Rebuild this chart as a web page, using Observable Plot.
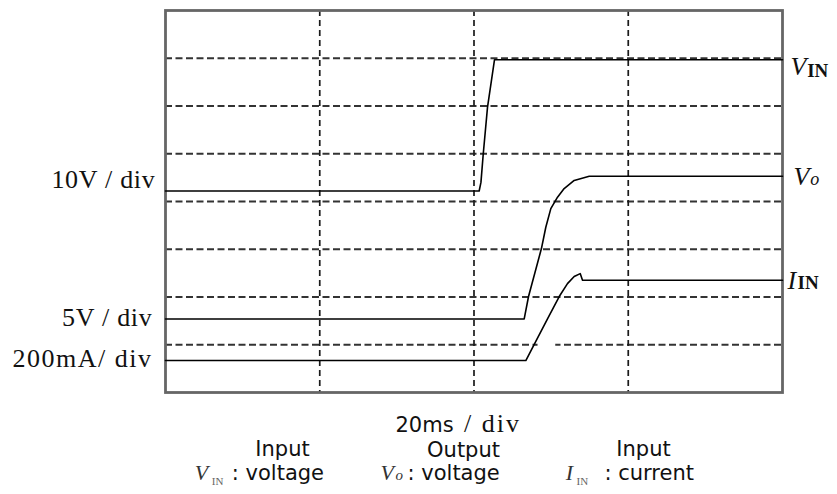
<!DOCTYPE html>
<html>
<head>
<meta charset="utf-8">
<script src="https://cdn.jsdelivr.net/npm/d3@7"></script>
<script src="https://cdn.jsdelivr.net/npm/@observablehq/plot@0.6"></script>
<style>
  html, body { margin: 0; padding: 0; background: #fff; }
  svg { display: block; }
</style>
</head>
<body>
<div id="chart"></div>
<script>
// ---- Data (time in ms at 20 ms/div, amplitude in divisions) ----
const gridTime = [20, 40, 60];
const gridDiv = [1, 2, 3, 4, 5, 6, 7];

const vinTime = [0, 40.67, 40.9, 41.19, 41.75, 42.66, 80];
const vinDiv  = [4.22, 4.22, 4.4, 4.98, 5.97, 6.97, 6.97];

const voTime = [0, 46.51, 47.07, 48.75, 49.31, 49.96, 50.83, 51.69, 52.99, 54.94, 80];
const voDiv  = [1.54, 1.54, 2.01, 3.02, 3.46, 3.85, 4.09, 4.27, 4.44, 4.53, 4.53];

const iinTime = [0, 46.72, 47.81, 49.53, 51.05, 52.12, 52.99, 53.77, 54.07, 80];
const iinDiv  = [0.67, 0.67, 1.01, 1.54, 2.01, 2.28, 2.43, 2.49, 2.35, 2.35];

const scaleLabels = ["10V / div", "5V / div", "200mA/ div"];
const timeLabel = ["20ms", "/ div"];
const legendTitles = ["Input", "Output", "Input"];
const legendDescs = [": voltage", ": voltage", ": current"];

const toPts = (t, v) => t.map((x, i) => ({t: x, v: v[i]}));
const vin = toPts(vinTime, vinDiv);
const vo = toPts(voTime, voDiv);
const iin = toPts(iinTime, iinDiv);

const serif = "'Liberation Serif', 'DejaVu Serif', serif";
const sans = "'DejaVu Sans', sans-serif";

const txt = (data, opts) => Plot.text(data, {lineAnchor: "bottom", fill: "#111", text: d => d, textAnchor: "start", ...opts});

const chart = Plot.plot({
  width: 837,
  height: 494,
  marginLeft: 165,
  marginRight: 55,
  marginTop: 10,
  marginBottom: 102,
  x: {domain: [0, 80], axis: null},
  y: {domain: [0, 8], axis: null},
  marks: [
    Plot.ruleY(gridDiv, {y: d => d, stroke: "#333", strokeWidth: 2, strokeDasharray: "7,3.5"}),
    Plot.ruleX(gridTime, {x: d => d, stroke: "#1a1a1a", strokeWidth: 1.7, strokeDasharray: "6,4"}),
    Plot.ruleY([1], {x1: 48.3, x2: 50.6, stroke: "white", strokeWidth: 4}),
    Plot.frame({stroke: "#666", strokeWidth: 2.8}),
    Plot.line(vin, {x: "t", y: "v", stroke: "#000", strokeWidth: 1.6}),
    Plot.line(vo, {x: "t", y: "v", stroke: "#000", strokeWidth: 1.6}),
    Plot.line(iin, {x: "t", y: "v", stroke: "#000", strokeWidth: 1.6}),

    // left scale labels
    txt([scaleLabels[0]], {x: -1.30, y: 4.29, textAnchor: "end", fontFamily: serif, fontSize: 26}),
    txt([scaleLabels[1]], {x: -1.69, y: 1.40, textAnchor: "end", fontFamily: serif, fontSize: 26}),
    txt([scaleLabels[2]], {x: -1.69, y: 0.54, textAnchor: "end", fontFamily: serif, fontSize: 26}),

    // right trace labels
    txt(["V"], {x: 81.04, y: 6.64, fontFamily: serif, fontStyle: "italic", fontSize: 26}),
    txt(["IN"], {x: 83.2, y: 6.60, fontFamily: serif, fontWeight: "bold", fontSize: 19}),
    txt(["V"], {x: 81.43, y: 4.34, fontFamily: serif, fontStyle: "italic", fontSize: 26}),
    txt(["o"], {x: 83.6, y: 4.34, fontFamily: serif, fontStyle: "italic", fontSize: 18}),
    txt(["I"], {x: 80.65, y: 2.16, fontFamily: serif, fontStyle: "italic", fontSize: 26}),
    txt(["IN"], {x: 81.95, y: 2.16, fontFamily: serif, fontWeight: "bold", fontSize: 19}),

    // time scale label
    txt([timeLabel[0]], {x: 29.82, y: -0.817, fontFamily: sans, fontSize: 21}),
    txt([timeLabel[1]], {x: 38.7, y: -0.817, fontFamily: serif, fontSize: 26}),

    // bottom legend
    txt([legendTitles[0]], {x: 15.17, y: -1.32, textAnchor: "middle", fontFamily: sans, fontSize: 21}),
    txt([legendTitles[1]], {x: 38.64, y: -1.36, textAnchor: "middle", fontFamily: sans, fontSize: 21}),
    txt([legendTitles[2]], {x: 61.98, y: -1.32, textAnchor: "middle", fontFamily: sans, fontSize: 21}),

    txt(["V"], {x: 3.8, y: -1.84, fontFamily: serif, fontStyle: "italic", fontSize: 22, fill: "#333"}),
    txt(["IN"], {x: 6.0, y: -1.93, fontFamily: serif, fontSize: 11, fill: "#666"}),
    txt([legendDescs[0]], {x: 8.6, y: -1.84, fontFamily: sans, fontSize: 21}),

    txt(["V"], {x: 27.88, y: -1.84, fontFamily: serif, fontStyle: "italic", fontSize: 22, fill: "#333"}),
    txt(["o"], {x: 29.82, y: -1.84, fontFamily: serif, fontStyle: "italic", fontSize: 15, fill: "#333"}),
    txt([legendDescs[1]], {x: 31.38, y: -1.84, fontFamily: sans, fontSize: 21}),

    txt(["I"], {x: 51.9, y: -1.84, fontFamily: serif, fontStyle: "italic", fontSize: 22, fill: "#333"}),
    txt(["IN"], {x: 53.3, y: -1.93, fontFamily: serif, fontSize: 11, fill: "#666"}),
    txt([legendDescs[2]], {x: 56.92, y: -1.84, fontFamily: sans, fontSize: 21})
  ]
});
// letter spacing for the stretched-looking labels of the original
const spacing = new Map([["10V / div", 0.7], ["5V / div", 0.7], ["200mA/ div", 1.5], ["/ div", 2]]);
d3.select(chart).selectAll("text").each(function() {
  const s = spacing.get(this.textContent);
  if (s != null) this.setAttribute("letter-spacing", s);
});
document.getElementById("chart").appendChild(chart);
</script>
</body>
</html>
